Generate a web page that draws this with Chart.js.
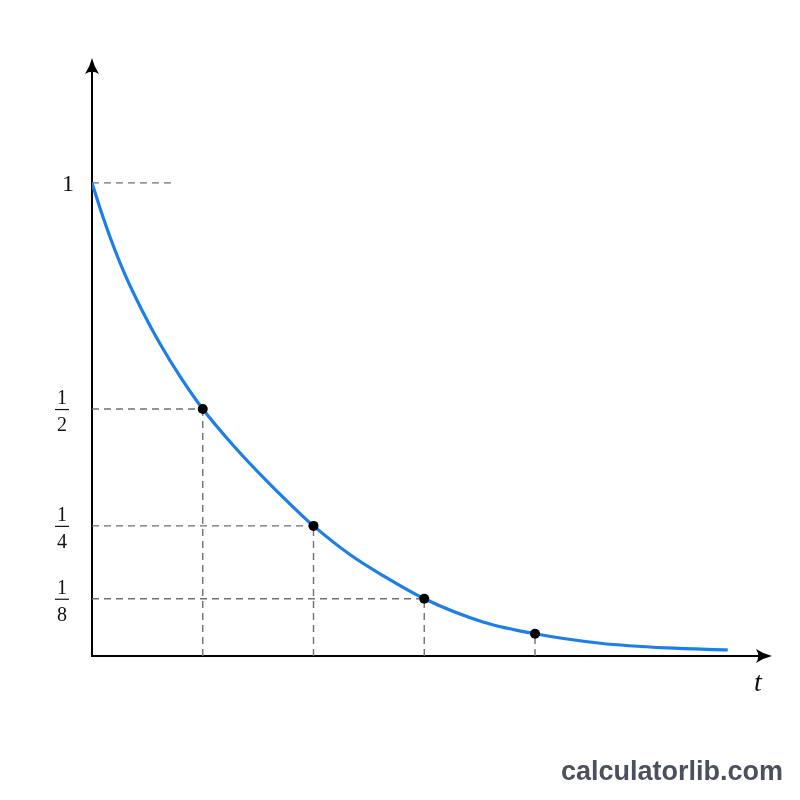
<!DOCTYPE html>
<html lang="en">
  <head>
    <meta charset="UTF-8" />
    <meta name="viewport" content="width=device-width, initial-scale=1.0" />
    <title>Half-life decay</title>
    <script src="https://cdn.jsdelivr.net/npm/chart.js@4.4.1/dist/chart.umd.min.js"></script>
    <style>
      html,
      body {
        margin: 0;
        padding: 0;
        background: #fff;
      }
      #wrap {
        width: 800px;
        height: 800px;
        position: relative;
      }
    </style>
  </head>
  <body>
    <div id="wrap"><canvas id="chart"></canvas></div>
  </body>
  <script>
    // decay curve (t in half-lives, amount left)
    const curveT = [0, 0.072, 0.178, 0.298, 0.449, 0.614, 0.795, 1, 1.276, 1.577, 1.878, 2, 2.325, 2.626, 3, 3.53, 4, 4.59, 5.19, 5.74];
    const curveN = [1, 0.947, 0.876, 0.806, 0.732, 0.66, 0.591, 0.522, 0.445, 0.37, 0.301, 0.275, 0.215, 0.17, 0.121, 0.072, 0.047, 0.027, 0.017, 0.013];

    // marked points on the curve
    const dotT = [1, 2, 3, 4];
    const dotN = [0.522, 0.275, 0.121, 0.047];

    // y labels: where they sit and what they say
    const tickVals = [1, 0.522, 0.275, 0.121];
    const tickNum = ["1", "1", "1", "1"];
    const tickDen = [null, "2", "4", "8"];
    // how far each horizontal guide runs along t
    const guideEnd = [0.73, 1, 2, 3];

    const xMax = 6.14;
    const yMax = 1.264;

    const blue = "#1c7fe9";
    const guideColor = "#707070";

    const toXY = (xs, ys) => xs.map((x, i) => ({ x: x, y: ys[i] }));

    // dashed guides, one dataset per segment
    const guides = [];
    tickVals.forEach((v, i) => {
      guides.push([{ x: 0, y: v }, { x: guideEnd[i], y: v }]);
    });
    dotT.forEach((t, i) => {
      guides.push([{ x: t, y: 0 }, { x: t, y: dotN[i] }]);
    });

    function arrowHead(ctx, x, y, angle) {
      const L = 16,
        W = 7;
      ctx.save();
      ctx.translate(x, y);
      ctx.rotate(angle);
      ctx.beginPath();
      ctx.moveTo(0, 0);
      ctx.quadraticCurveTo(-L * 0.55, W * 0.3, -L, W);
      ctx.quadraticCurveTo(-L * 0.72, 0, -L, -W);
      ctx.quadraticCurveTo(-L * 0.55, -W * 0.3, 0, 0);
      ctx.closePath();
      ctx.fillStyle = "#000";
      ctx.fill();
      ctx.restore();
    }

    const axesPlugin = {
      id: "axes",
      beforeDatasetsDraw(chart) {
        const { ctx, chartArea } = chart;
        const x0 = chart.scales.x.getPixelForValue(0);
        const y0 = chart.scales.y.getPixelForValue(0);
        ctx.save();
        ctx.strokeStyle = "#000";
        ctx.lineWidth = 2;
        ctx.beginPath();
        ctx.moveTo(x0, y0);
        ctx.lineTo(x0, chartArea.top + 8);
        ctx.moveTo(x0 - 1, y0);
        ctx.lineTo(chartArea.right - 8, y0);
        ctx.stroke();
        arrowHead(ctx, x0, chartArea.top, -Math.PI / 2);
        arrowHead(ctx, chartArea.right, y0, 0);
        ctx.restore();
      },
      afterDraw(chart) {
        const { ctx } = chart;
        const ys = chart.scales.y;
        const x0 = chart.scales.x.getPixelForValue(0);
        ctx.save();
        ctx.fillStyle = "#111";
        ctx.strokeStyle = "#111";
        ctx.textAlign = "center";
        ctx.textBaseline = "alphabetic";
        tickVals.forEach((v, i) => {
          const py = ys.getPixelForValue(v);
          if (tickDen[i] === null) {
            ctx.font = '24px "Liberation Serif", serif';
            ctx.fillText(tickNum[i], x0 - 24, py + 8);
          } else {
            const cx = x0 - 30;
            ctx.font = '20px "Liberation Serif", serif';
            ctx.fillText(tickNum[i], cx, py - 5);
            ctx.fillText(tickDen[i], cx, py + 22);
            ctx.lineWidth = 1.2;
            ctx.beginPath();
            ctx.moveTo(cx - 7, py + 0.5);
            ctx.lineTo(cx + 7, py + 0.5);
            ctx.stroke();
          }
        });

        // axis name
        ctx.font = 'italic 28px "Liberation Serif", serif';
        ctx.fillText("t", 758, 691);

        // watermark
        ctx.font = 'bold 27px "Liberation Sans", Arial, sans-serif';
        ctx.fillStyle = "#4b5060";
        ctx.textAlign = "right";
        ctx.fillText("calculatorlib.com", 783, 780);
        ctx.restore();
      },
    };

    const ctx = document.getElementById("chart").getContext("2d");

    new Chart(ctx, {
      type: "line",
      data: {
        datasets: [
          {
            label: "marked",
            data: toXY(dotT, dotN),
            showLine: false,
            pointRadius: 5,
            pointBackgroundColor: "#000",
            pointBorderColor: "#000",
            pointBorderWidth: 0,
            order: 0,
          },
          {
            label: "N(t)",
            data: toXY(curveT, curveN),
            borderColor: blue,
            borderWidth: 3.2,
            pointRadius: 0,
            cubicInterpolationMode: "monotone",
            fill: false,
            order: 1,
          },
          ...guides.map((g, i) => ({
            label: "guide" + i,
            data: g,
            borderColor: guideColor,
            borderWidth: 1.4,
            borderDash: [7, 5],
            pointRadius: 0,
            fill: false,
            order: 2,
          })),
        ],
      },
      options: {
        responsive: true,
        maintainAspectRatio: false,
        animation: false,
        layout: {
          padding: { left: 92, right: 28, top: 58, bottom: 144 },
        },
        plugins: {
          legend: { display: false },
          tooltip: { enabled: false },
        },
        scales: {
          x: { type: "linear", min: 0, max: xMax, display: false },
          y: { type: "linear", min: 0, max: yMax, display: false },
        },
      },
      plugins: [axesPlugin],
    });
  </script>
</html>
